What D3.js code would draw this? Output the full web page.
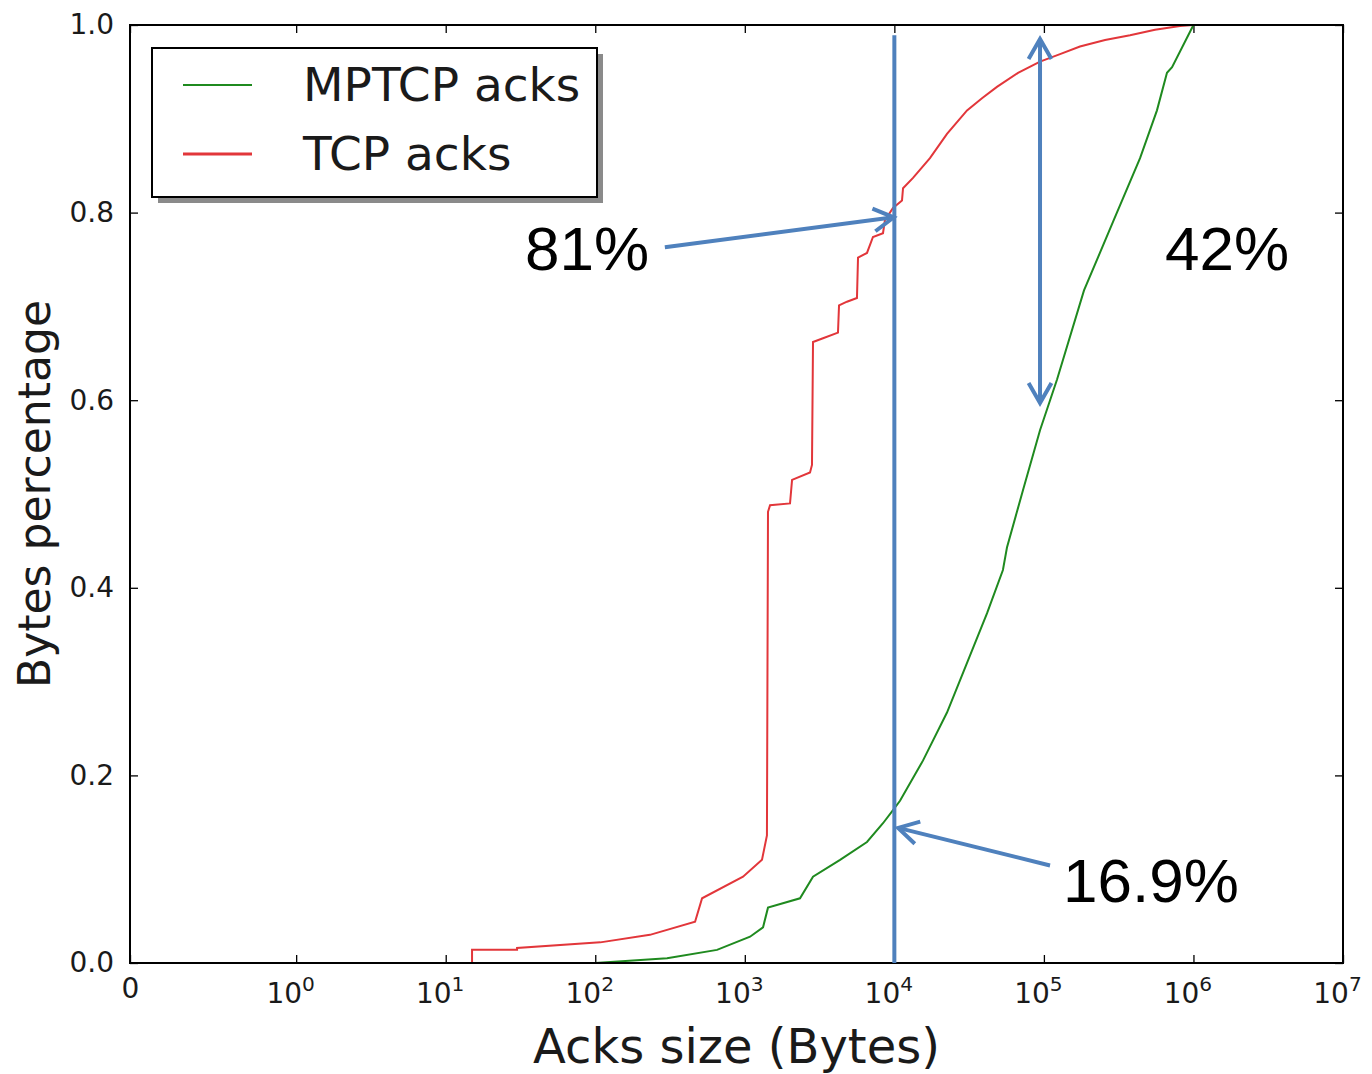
<html>
<head>
<meta charset="utf-8">
<script src="https://d3js.org/d3.v7.min.js"></script>
<style>
  body { margin: 0; background: #fff; }
  text { font-family: "DejaVu Sans", sans-serif; }
</style>
</head>
<body>
<div id="chart"></div>
<script>

// CDF of acked bytes
var tcpBytes = [0, 15, 15, 30, 30, 108, 232, 465, 518, 973, 1303, 1406, 1429, 1475, 2006, 2070,
  2729, 2813, 2858, 3334, 4198, 4266, 4822, 5623, 5715, 6561, 7194, 8395, 8650, 9795, 11250,
  11430, 13330, 17300, 22490, 30620, 38550, 48530, 67140, 94190, 128200, 174200, 256400,
  376700, 553400, 812800, 993000];
var tcpFrac = [0, 0, 0.014, 0.014, 0.016, 0.022, 0.030, 0.044, 0.069, 0.092, 0.110, 0.136, 0.481,
  0.488, 0.490, 0.515, 0.523, 0.531, 0.662, 0.666, 0.672, 0.701, 0.705, 0.709, 0.752, 0.757,
  0.774, 0.778, 0.792, 0.805, 0.813, 0.826, 0.837, 0.858, 0.884, 0.909, 0.922, 0.934, 0.949,
  0.961, 0.969, 0.977, 0.984, 0.989, 0.995, 0.999, 1.0];

var mptcpBytes = [0, 100, 302, 652, 1084, 1324, 1429, 2339, 2858, 4335, 6561, 8395, 9795, 10910,
  15560, 22490, 30620, 41690, 53210, 56620, 72440, 94190, 122400, 185400, 289700, 439500,
  570200, 665300, 719400, 1000000];
var mptcpFrac = [0, 0, 0.005, 0.014, 0.028, 0.038, 0.059, 0.069, 0.092, 0.110, 0.129, 0.149,
  0.163, 0.173, 0.216, 0.267, 0.320, 0.373, 0.419, 0.443, 0.504, 0.568, 0.622, 0.717, 0.790,
  0.858, 0.909, 0.949, 0.955, 1.0];

var xTickValues = [0, 1, 10, 100, 1000, 10000, 100000, 1000000, 10000000];
var xTickLabels = ["0", "0", "1", "2", "3", "4", "5", "6", "7"]; // exponents
var yTickValues = [0, 0.2, 0.4, 0.6, 0.8, 1.0];

var seriesNames = ["MPTCP acks", "TCP acks"];
var seriesColors = ["#1f8a1f", "#e2363a"];

var margin = {top: 25, right: 29, bottom: 111, left: 130};
var width = 1372 - margin.left - margin.right;
var height = 1074 - margin.top - margin.bottom;

// old matplotlib symlog, linthresh = 1
var linScale = 1 / (1 - 1 / 10);
function symlog(v) { return v <= 1 ? v * linScale : linScale + Math.log10(v); }

var xT = d3.scaleLinear().domain([0, symlog(1e7)]).range([0, width]);
var x = function(v) { return xT(symlog(v)); };
var y = d3.scaleLinear().domain([0, 1]).range([height, 0]);

var svg = d3.select("#chart").append("svg")
    .attr("width", width + margin.left + margin.right)
    .attr("height", height + margin.top + margin.bottom)
  .append("g")
    .attr("transform", "translate(" + margin.left + "," + margin.top + ")");

// axes (ticks inside, on all sides)
var bottom = svg.append("g")
  .attr("transform", "translate(0," + height + ")")
  .call(d3.axisBottom(xT).tickValues(xTickValues.map(symlog)).tickSize(-8).tickPadding(20));
bottom.selectAll(".tick text").each(function(d, i) {
  var t = d3.select(this).text(null).attr("font-size", 28).attr("fill", "#1a1a1a");
  if (i === 0) {
    t.attr("dy", "0.55em").text("0");
  } else {
    t.attr("dx", "-6");
    t.append("tspan").text("10");
    t.append("tspan").attr("dy", "-0.6em").attr("font-size", "0.72em").text(xTickLabels[i]);
  }
});

svg.append("g")
  .call(d3.axisTop(xT).tickValues(xTickValues.map(symlog)).tickSize(-8).tickFormat(""));

var left = svg.append("g")
  .call(d3.axisLeft(y).tickValues(yTickValues).tickSize(-8).tickPadding(16).tickFormat(d3.format(".1f")));
left.selectAll(".tick text").attr("font-size", 28).attr("fill", "#1a1a1a");

svg.append("g")
  .attr("transform", "translate(" + width + ",0)")
  .call(d3.axisRight(y).tickValues(yTickValues).tickSize(-8).tickFormat(""));

svg.selectAll(".domain").remove();
svg.selectAll(".tick line").attr("stroke", "#000").attr("stroke-width", 1.3);

// curves
var line = d3.line()
  .x(function(d) { return x(d[0]); })
  .y(function(d) { return y(d[1]); });

svg.append("path")
  .datum(d3.zip(mptcpBytes, mptcpFrac))
  .attr("fill", "none")
  .attr("stroke", seriesColors[0])
  .attr("stroke-width", 2)
  .attr("d", line);

svg.append("path")
  .datum(d3.zip(tcpBytes, tcpFrac))
  .attr("fill", "none")
  .attr("stroke", seriesColors[1])
  .attr("stroke-width", 2)
  .attr("d", line);

// frame
svg.append("rect")
  .attr("width", width).attr("height", height)
  .attr("fill", "none").attr("stroke", "#000").attr("stroke-width", 2);

// axis labels
svg.append("text")
  .attr("x", width / 2).attr("y", height + 100)
  .attr("text-anchor", "middle").attr("font-size", 48).attr("fill", "#1a1a1a")
  .text("Acks size (Bytes)");

svg.append("text")
  .attr("transform", "translate(" + (-80) + "," + (height / 2) + ")rotate(-90)")
  .attr("text-anchor", "middle").attr("font-size", 44).attr("fill", "#1a1a1a")
  .text("Bytes percentage");

// legend
var legend = svg.append("g").attr("transform", "translate(22,23)");
legend.append("rect")
  .attr("x", 6).attr("y", 6).attr("width", 445).attr("height", 149)
  .attr("fill", "#8a8a8a");
legend.append("rect")
  .attr("width", 445).attr("height", 149)
  .attr("fill", "#fff").attr("stroke", "#000").attr("stroke-width", 2);
seriesNames.forEach(function(name, i) {
  var ly = 37 + i * 69;
  legend.append("line")
    .attr("x1", 31).attr("x2", 100).attr("y1", ly).attr("y2", ly)
    .attr("stroke", seriesColors[i]).attr("stroke-width", i === 1 ? 3 : 2);
  legend.append("text")
    .attr("x", 151).attr("y", ly + 16)
    .attr("font-size", 47).attr("fill", "#1a1a1a")
    .text(name);
});

// annotations
var blue = "#4f81bd";
var ann = svg.append("g").attr("stroke", blue).attr("stroke-width", 4)
  .attr("fill", "none").attr("stroke-linecap", "butt");

function chevron(x1, y1, x2, y2) {
  var a = Math.atan2(y2 - y1, x2 - x1), len = 23, spread = 0.52;
  ann.append("polyline").attr("points", [
    [x2 - len * Math.cos(a - spread), y2 - len * Math.sin(a - spread)],
    [x2, y2],
    [x2 - len * Math.cos(a + spread), y2 - len * Math.sin(a + spread)]
  ].map(function(p) { return p.join(","); }).join(" "));
}
function arrow(p1, p2, both) {
  var x1 = x(p1[0]), y1 = y(p1[1]), x2 = x(p2[0]), y2 = y(p2[1]);
  ann.append("line").attr("x1", x1).attr("y1", y1).attr("x2", x2).attr("y2", y2);
  chevron(x1, y1, x2, y2);
  if (both) chevron(x2, y2, x1, y1);
}

ann.append("line")
  .attr("x1", x(10000)).attr("x2", x(10000))
  .attr("y1", y(0.989)).attr("y2", y(0));

arrow([292, 0.763], [9900, 0.795]);
arrow([109900, 0.104], [10600, 0.144]);
arrow([94190, 0.597], [94190, 0.985], true);

var labels = [
  {text: "81%", at: [33.9, 0.739]},
  {text: "42%", at: [645600, 0.739]},
  {text: "16.9%", at: [134300, 0.065]}
];
svg.selectAll(".ann-label").data(labels).enter().append("text")
  .attr("class", "ann-label")
  .attr("x", function(d) { return x(d.at[0]); })
  .attr("y", function(d) { return y(d.at[1]); })
  .style("font-family", "'Liberation Sans', Arial, sans-serif")
  .attr("font-size", 62).attr("fill", "#000")
  .text(function(d) { return d.text; });

</script>
</body>
</html>
